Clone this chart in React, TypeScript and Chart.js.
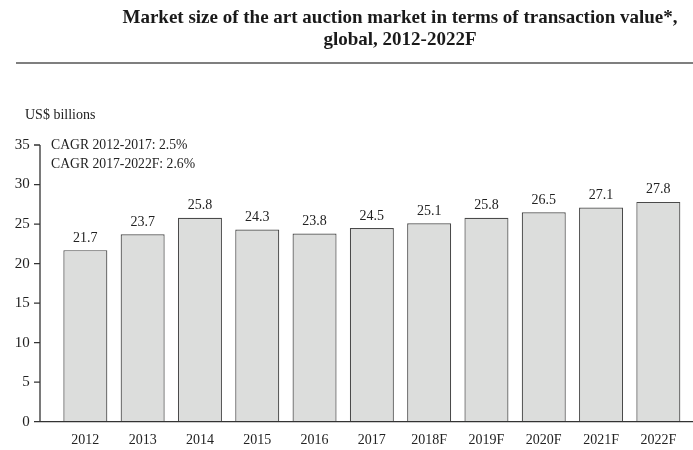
import React, { useEffect, useRef } from "react";
import { Chart, registerables } from "chart.js";

Chart.register(...registerables);

const categories = ["2012", "2013", "2014", "2015", "2016", "2017", "2018F", "2019F", "2020F", "2021F", "2022F"];
const values = [21.7, 23.7, 25.8, 24.3, 23.8, 24.5, 25.1, 25.8, 26.5, 27.1, 27.8];
const titleLines = ["Market size of the art auction market in terms of transaction value*,", "global, 2012-2022F"];
const unitLabel = "US$ billions";
const cagrLines = ["CAGR 2012-2017: 2.5%", "CAGR 2017-2022F: 2.6%"];
const yMin = 0;
const yMax = 35;
const yStep = 5;

const SERIF = "'Liberation Serif', 'Times New Roman', serif";

const decorPlugin = {
  id: "decor",
  afterDraw(chart: any) {
    const ctx = chart.ctx;
    const y = chart.scales.y;
    ctx.save();
    // title
    ctx.fillStyle = "#1a1a1a";
    ctx.font = `bold 19px ${SERIF}`;
    ctx.textAlign = "center";
    ctx.textBaseline = "alphabetic";
    ctx.fillText(titleLines[0], 400, 23);
    ctx.fillText(titleLines[1], 400, 45);
    // rule
    ctx.strokeStyle = "#555";
    ctx.lineWidth = 1.5;
    ctx.beginPath();
    ctx.moveTo(16, 63);
    ctx.lineTo(693, 63);
    ctx.stroke();
    // unit label
    ctx.font = `14px ${SERIF}`;
    ctx.textAlign = "left";
    ctx.fillStyle = "#222";
    ctx.fillText(unitLabel, 25, 119);
    // CAGR
    ctx.font = `13.7px ${SERIF}`;
    ctx.fillText(cagrLines[0], 51, 149);
    ctx.fillText(cagrLines[1], 51, 168);
    // axes
    const axisX = 40;
    const y0 = y.getPixelForValue(yMin);
    const yTop = y.getPixelForValue(yMax);
    ctx.strokeStyle = "#333";
    ctx.lineWidth = 1.3;
    ctx.beginPath();
    ctx.moveTo(axisX, yTop);
    ctx.lineTo(axisX, y0);
    ctx.moveTo(axisX, y0);
    ctx.lineTo(693, y0);
    for (const t of y.ticks) {
      const py = y.getPixelForValue(t.value);
      ctx.moveTo(axisX - 6, py);
      ctx.lineTo(axisX, py);
    }
    ctx.stroke();
    // data labels
    const meta = chart.getDatasetMeta(0);
    ctx.font = `14px ${SERIF}`;
    ctx.textAlign = "center";
    ctx.textBaseline = "alphabetic";
    ctx.fillStyle = "#222";
    meta.data.forEach((el: any, i: number) => {
      ctx.fillText(values[i].toFixed(1), el.x, el.y - 8.5);
    });
    ctx.restore();
  },
};

export default function App() {
  const ref = useRef<HTMLCanvasElement | null>(null);
  useEffect(() => {
    document.body.style.margin = "0";
    const canvas = ref.current;
    if (!canvas) return;
    const chart = new Chart(canvas, {
      type: "bar",
      data: {
        labels: categories,
        datasets: [
          {
            data: values,
            backgroundColor: "#dcdddc",
            borderColor: "#4a4a4a",
            borderWidth: 1.2,
            barPercentage: 0.768,
            categoryPercentage: 1,
          },
        ],
      },
      options: {
        animation: false,
        responsive: false,
        devicePixelRatio: 1,
        layout: { padding: { top: 145, right: 6, left: 0, bottom: 0 } },
        plugins: { legend: { display: false }, tooltip: { enabled: false }, title: { display: false } },
        scales: {
          x: {
            type: "category",
            offset: true,
            grid: { display: false, drawTicks: false },
            border: { display: false },
            ticks: { color: "#222", font: { family: SERIF, size: 14 }, padding: 10, maxRotation: 0, autoSkip: false },
            afterFit: (s: any) => { s.height = 28.3; s.paddingLeft = 0; s.paddingRight = 0; },
          },
          y: {
            min: yMin,
            max: yMax,
            grid: { display: false, drawTicks: false },
            border: { display: false },
            ticks: { stepSize: yStep, color: "#222", font: { family: SERIF, size: 15 }, padding: 27 },
            afterFit: (s: any) => { s.width = 56.7; s.paddingTop = 0; s.paddingBottom = 0; },
          },
        },
      },
      plugins: [decorPlugin],
    });
    return () => chart.destroy();
  }, []);
  return <canvas ref={ref} width={693} height={450} style={{ display: "block" }} />;
}
